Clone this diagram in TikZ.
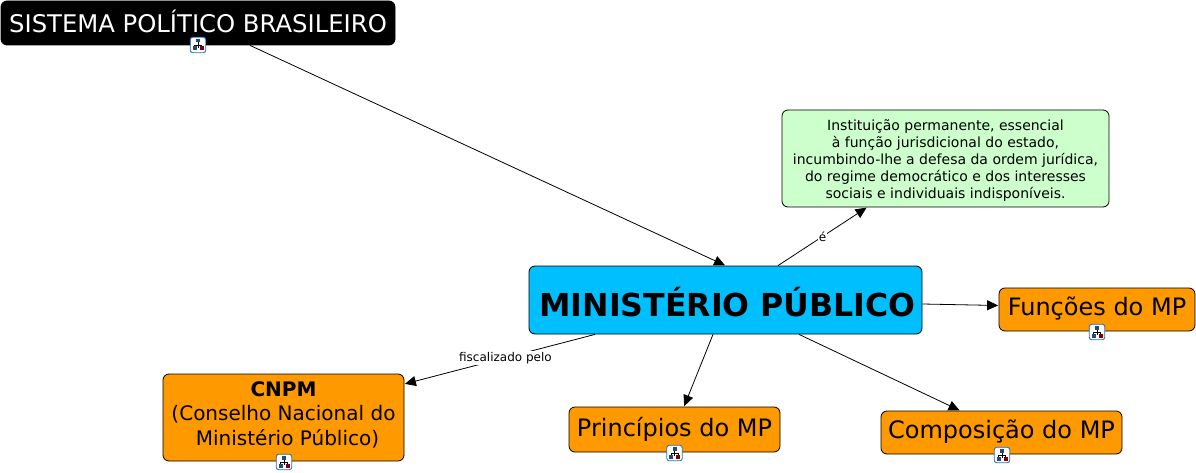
\documentclass[tikz,border=0pt]{standalone}
\usepackage{fontspec}
\setmainfont{DejaVu Sans}
\usepackage{xcolor}
\usetikzlibrary{arrows.meta}
\definecolor{mpblue}{HTML}{00BFFF}
\definecolor{mporange}{HTML}{FF9900}
\definecolor{mpgreen}{HTML}{CCFFCC}
\definecolor{iconblue}{HTML}{2F6DB5}
\tikzset{
  concept/.style={draw=black, line width=0.8pt, rounded corners=6pt, align=center, inner sep=0pt, text=black, anchor=center},
  orangebox/.style={concept, fill=mporange, font=\fontsize{24}{28}\selectfont},
  link/.style={draw=black, line width=0.8pt, -{Triangle[length=11pt,width=10pt]}, shorten >=0.5pt},
  linklabel/.style={fill=white, inner sep=1pt, font=\fontsize{12}{14}\selectfont},
  mapicon/.style={draw=iconblue, fill=white, line width=0.9pt, rounded corners=2.5pt, minimum width=15.5pt, minimum height=15.5pt, inner sep=0pt},
  mapmark/.pic={
    \fill[iconblue!70!black] (-2,-6) rectangle (2,-2.5);
    \draw[black, line width=0.6pt] (0,-2.5) -- (0,0) (-3.5,0) -- (3.5,0) (-3.5,0) -- (-3.5,1.5) (3.5,0) -- (3.5,1.5) (0,0) -- (0,3);
    \fill[iconblue!70!black] (-5.5,1.5) rectangle (-1.5,5.5);
    \fill[red!50!black] (1.5,1.5) rectangle (5.5,5.5);
  }
}
\begin{document}
\begin{tikzpicture}[x=1pt,y=-1pt]
\useasboundingbox (0,0) rectangle (1196,473);
% concepts
\node[concept, fill=black, text=white, minimum width=394pt, minimum height=44pt, font=\fontsize{24.3}{28}\selectfont] (sistema) at (198,23) {SISTEMA POLÍTICO BRASILEIRO\rule[-4pt]{0pt}{0pt}};
\node[concept, fill=mpblue, minimum width=393pt, minimum height=68pt, font=\fontsize{31.6}{36}\selectfont\bfseries] (mp) at (725.5,300) {\hspace*{4pt}\rule{0pt}{34pt}MINISTÉRIO PÚBLICO};
\node[concept, fill=mpgreen, minimum width=327pt, minimum height=97pt, font=\fontsize{14}{17.1}\selectfont] (inst) at (945.5,158.5) {\rule{0pt}{15pt}Instituição permanente, essencial\\à função jurisdicional do estado,\\incumbindo-lhe a defesa da ordem jurídica,\\do regime democrático e dos interesses\\sociais e individuais indisponíveis.};
\node[orangebox, minimum width=196pt, minimum height=43pt] (funcoes) at (1097,309.5) {Funções do MP\rule[-7pt]{0pt}{0pt}};
\node[orangebox, minimum width=211pt, minimum height=45pt] (principios) at (674.5,429.5) {Princípios do MP};
\node[orangebox, minimum width=241pt, minimum height=43pt] (composicao) at (1001.5,432.5) {Composição do MP\rule[-7pt]{0pt}{0pt}};
\node[concept, fill=mporange, minimum width=241pt, minimum height=87pt, font=\fontsize{20}{24.5}\selectfont] (cnpm) at (283.5,417.5) {\textbf{CNPM}\\(Conselho Nacional do\\\hspace*{8pt}Ministério Público)\rule[-8pt]{0pt}{0pt}};
% connectors
\draw[link] ([xshift=52pt]sistema.south) -- (mp.north);
\draw[link] ([xshift=52.5pt]mp.north) -- node[linklabel] (e) {é} ([xshift=-78.5pt]inst.south);
\draw[link] ([yshift=-4pt]mp.east) -- ([yshift=4pt]funcoes.west);
\draw[link] ([xshift=-12.5pt]mp.south) -- ([xshift=9.5pt]principios.north);
\draw[link] ([xshift=73.5pt]mp.south) -- ([xshift=-41.5pt]composicao.north);
\draw[link] ([xshift=-130.5pt]mp.south) -- node[linklabel, pos=0.47] (fisc) {fiscalizado pelo} ([yshift=33.5pt]cnpm.east);
% map icons
\foreach \iname/\ix/\iy in {isistema/198/45, ifuncoes/1097/332, iprincipios/674.5/453, icomposicao/1002/455, icnpm/284/462}{
  \node[mapicon] (\iname) at (\ix,\iy) {};
  \pic at (\iname.center) {mapmark};
}
\end{tikzpicture}
\end{document}
